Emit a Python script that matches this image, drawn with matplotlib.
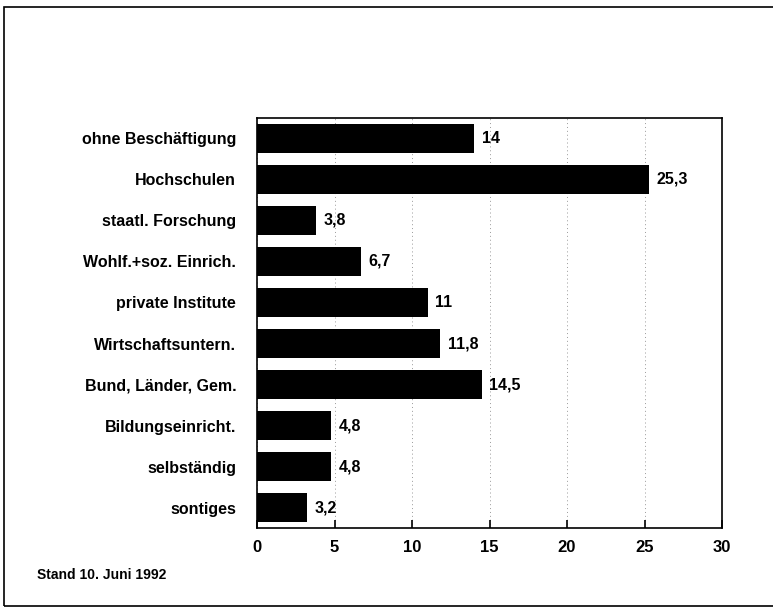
import matplotlib
matplotlib.use("Agg")
from matplotlib import pyplot as plt
from matplotlib.patches import Rectangle

categories = ["ohne Beschäftigung", "Hochschulen", "staatl. Forschung",
              "Wohlf.+soz. Einrich.", "private Institute", "Wirtschaftsuntern.",
              "Bund, Länder, Gem.", "Bildungseinricht.", "selbständig", "sontiges"]
values = [14, 25.3, 3.8, 6.7, 11, 11.8, 14.5, 4.8, 4.8, 3.2]
value_labels = ["14", "25,3", "3,8", "6,7", "11", "11,8", "14,5", "4,8", "4,8", "3,2"]
xticks = [0, 5, 10, 15, 20, 25, 30]

plt.rcParams['font.family'] = ['Liberation Sans', 'DejaVu Sans']
plt.rcParams['font.weight'] = 'bold'

fig = plt.figure(figsize=(7.73, 6.07), dpi=100)
ax = fig.add_axes([257/773, 1 - 528/607, (722 - 257)/773, (528 - 118)/607])

ypos = list(range(len(categories)))
ax.barh(ypos, values, height=0.7, color='black')
for y, v, lab in zip(ypos, values, value_labels):
    ax.text(v + 0.5, y, lab, va='center', ha='left', fontsize=11.5, fontweight='bold')

ax.set_xlim(0, 30)
ax.set_ylim(9.49, -0.49)
ax.set_yticks(ypos)
ax.set_yticklabels(categories, fontsize=11.5, fontweight='bold')
ax.tick_params(axis='y', length=0, pad=15)
ax.set_xticks(xticks)
ax.set_xticklabels([str(t) for t in xticks], fontsize=12, fontweight='bold')
ax.tick_params(axis='x', direction='in', length=6, width=1.2, pad=9)
ax.grid(axis='x', linestyle=(0, (1, 3)), color='#999999', linewidth=0.7)
ax.set_axisbelow(True)
for s in ax.spines.values():
    s.set_linewidth(1.2)

fig.text(37/773, 1 - 575/607, "Stand 10. Juni 1992", fontsize=10, fontweight='bold', va='center')

fig.patches.append(Rectangle((4/773, 1 - 606/607), 775/773, 599/607, transform=fig.transFigure,
                             fill=False, edgecolor='black', linewidth=1.2))

fig.savefig("out.png", dpi=100)
